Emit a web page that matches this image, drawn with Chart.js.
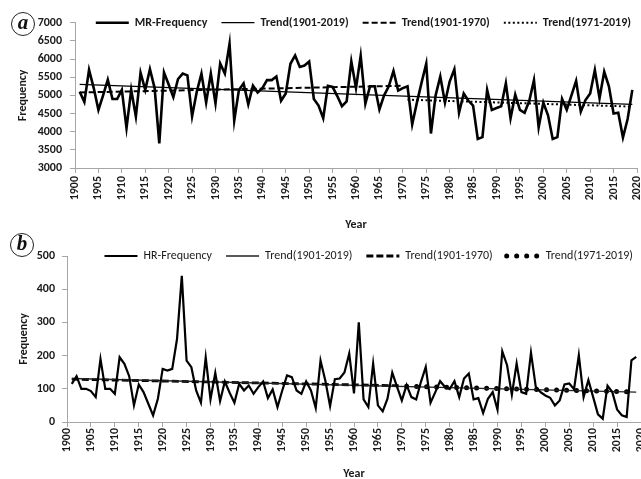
<!DOCTYPE html>
<html>
<head>
<meta charset="utf-8">
<script src="https://cdn.jsdelivr.net/npm/chart.js@4.4.0/dist/chart.umd.min.js"></script>
<style>
  html, body { margin: 0; padding: 0; background: #fff; overflow: hidden; }
  body { width: 641px; height: 479px; position: relative; }
  #wrapA { position: absolute; left: 0; top: 0; }
  #wrapB { position: absolute; left: 0; top: 235px; }
  .tag {
    position: absolute; width: 22px; height: 22px;
    border: 1.5px solid #222; border-radius: 50%;
    font: italic bold 21px "Liberation Serif", serif;
    text-align: center; line-height: 19px; color: #111; background: #fff;
  }
</style>
</head>
<body>
<div id="wrapA"><canvas id="mrChart" width="641" height="235"></canvas></div>
<div id="wrapB"><canvas id="hrChart" width="641" height="250"></canvas></div>
<div class="tag" style="left:11px;top:12px;">a</div>
<div class="tag" style="left:10px;top:233px;">b</div>
<script>
// years 1901..2019
const years = Array.from({ length: 119 }, (_, i) => 1901 + i);

const mrFrequency = [
    5100, 4820, 5700, 5200, 4600, 5000, 5430, 4900, 4900, 5150,   // 1901-1910
    4100, 5150, 4420, 5620, 5150, 5720, 5200, 3680, 5630, 5300,   // 1911-1920
    4950, 5450, 5600, 5550, 4420, 5100, 5600, 4800, 5600, 4780,   // 1921-1930
    5880, 5600, 6420, 4300, 5150, 5330, 4750, 5270, 5080, 5200,   // 1931-1940
    5420, 5420, 5520, 4850, 5050, 5870, 6100, 5780, 5820, 5930,   // 1941-1950
    4900, 4720, 4370, 5260, 5230, 4980, 4700, 4830, 5930, 5200,   // 1951-1960
    6090, 4770, 5250, 5250, 4610, 5000, 5250, 5670, 5130, 5200,   // 1961-1970
    5250, 4200, 4800, 5350, 5870, 3950, 5000, 5520, 4800, 5380,   // 1971-1980
    5720, 4520, 5050, 4850, 4720, 3800, 3850, 5150, 4600, 4650,   // 1981-1990
    4700, 5330, 4370, 5020, 4600, 4520, 4850, 5420, 4120, 4800,   // 1991-2000
    4450, 3800, 3850, 4900, 4600, 5000, 5400, 4550, 4870, 5050,   // 2001-2010
    5700, 4920, 5650, 5250, 4500, 4520, 3840, 4350, 5150          // 2011-2019
];

const hrFrequency = [
    115, 138, 100, 100, 93, 75, 190, 100, 100, 85,     // 1901-1910
    195, 175, 138, 50, 113, 90, 55, 20, 70, 160,       // 1911-1920
    155, 160, 250, 440, 185, 165, 95, 58, 195, 68,     // 1921-1930
    148, 63, 122, 88, 58, 115, 95, 110, 85, 105,       // 1931-1940
    122, 72, 98, 45, 95, 140, 135, 95, 85, 122,        // 1941-1950
    95, 42, 185, 125, 48, 129, 131, 149, 206, 86,      // 1951-1960
    300, 68, 45, 176, 50, 32, 70, 149, 106, 65,        // 1961-1970
    111, 75, 68, 121, 166, 58, 90, 123, 106, 99,       // 1971-1980
    123, 75, 131, 146, 68, 72, 27, 70, 90, 37,         // 1981-1990
    213, 171, 82, 176, 90, 85, 209, 106, 90, 80,       // 1991-2000
    73, 50, 65, 113, 116, 99, 201, 75, 126, 75,        // 2001-2010
    23, 10, 109, 90, 38, 20, 15, 186, 196              // 2011-2019
];

// trend end points
const trendAllYears = [1901, 2019];
const trendEarlyYears = [1901, 1970];
const trendLateYears = [1971, 2019];
const mrTrendAll = [5300, 4750];
const mrTrendEarly = [5080, 5265];
const mrTrendLate = [4880, 4690];
const hrTrendAll = [131, 90];
const hrTrendEarly = [129, 109];
const hrTrendLate = [108, 90];

const mrLabels = ['MR-Frequency', 'Trend(1901-2019)', 'Trend(1901-1970)', 'Trend(1971-2019)'];
const hrLabels = ['HR-Frequency', 'Trend(1901-2019)', 'Trend(1901-1970)', 'Trend(1971-2019)'];

const fontFamily = 'Carlito, Calibri, Lato, sans-serif';
Chart.defaults.font.family = fontFamily;
Chart.defaults.color = '#1a1a1a';

const axisColor = '#a6a6a6';
const pts = (xs, ys) => xs.map((x, i) => ({ x: x, y: ys[i] }));

// legend sits on the top edge of the plot, like the original
const legendOnTop = {
    id: 'legendOnTop',
    afterLayout(chart, args, opts) {
        const lg = chart.legend;
        if (!lg) return;
        const lo = lg.options.labels;
        const textY = lg.top + lo.padding + lo.font.size / 2;
        const dy = chart.chartArea.top - textY;
        lg.top += dy;
        lg.bottom += dy;
        lg.left += opts.dx || 0;
        lg.right += opts.dx || 0;
    }
};

// year labels written upwards under each x tick
const verticalYearTicks = {
    id: 'verticalYearTicks',
    afterDraw(chart, args, opts) {
        const sx = chart.scales.x;
        const ctx = chart.ctx;
        ctx.save();
        ctx.font = 'bold 12px ' + fontFamily;
        ctx.fillStyle = '#1a1a1a';
        ctx.textAlign = 'right';
        ctx.textBaseline = 'middle';
        sx.ticks.forEach(t => {
            ctx.save();
            ctx.translate(sx.getPixelForValue(t.value), sx.top + opts.offset);
            ctx.rotate(-Math.PI / 2);
            ctx.fillText(String(t.value), 0, 0);
            ctx.restore();
        });
        ctx.restore();
    }
};

function legendItems(chart) {
    return chart.data.datasets.map((ds, i) => ({
        text: ds.label,
        strokeStyle: ds.borderColor,
        fillStyle: ds.borderColor,
        lineWidth: ds.borderWidth,
        lineDash: ds.borderDash || [],
        lineCap: ds.borderCapStyle || 'butt',
        pointStyle: 'line',
        fontColor: '#1a1a1a',
        hidden: false,
        datasetIndex: i
    }));
}

function makeOptions(cfg) {
    return {
        responsive: false,
        animation: false,
        layout: { padding: { top: cfg.padTop, left: 0, right: cfg.padRight, bottom: 0 } },
        plugins: {
            legend: {
                display: true,
                position: 'top',
                fullSize: true,
                align: 'end',
                labels: {
                    usePointStyle: true,
                    pointStyleWidth: 33,
                    padding: 14,
                    font: { size: 12, weight: cfg.legendWeight },
                    generateLabels: legendItems
                }
            },
            legendOnTop: { dx: cfg.legendDx },
            verticalYearTicks: { offset: cfg.xLabelOffset },
            tooltip: { enabled: false }
        },
        scales: {
            x: {
                type: 'linear',
                min: 1900,
                max: 2020,
                afterFit: s => { s.height = cfg.xHeight; },
                ticks: { display: false, stepSize: 5, autoSkip: false },
                grid: { drawOnChartArea: false, drawTicks: true, tickLength: 5, color: axisColor },
                border: { display: true, color: axisColor },
                title: {
                    display: true,
                    text: 'Year',
                    font: { size: 12, weight: 'bold' },
                    padding: { top: 0, bottom: cfg.xTitlePad }
                }
            },
            y: {
                min: cfg.yMin,
                max: cfg.yMax,
                afterFit: s => { s.width = cfg.yWidth; },
                ticks: {
                    stepSize: cfg.yStep,
                    padding: cfg.yTickPad,
                    font: { size: 12, weight: 'bold' },
                    callback: v => String(v)
                },
                grid: { drawOnChartArea: false, drawTicks: true, tickLength: 5, color: axisColor },
                border: { display: true, color: axisColor },
                title: {
                    display: true,
                    text: 'Frequency',
                    font: { size: 12, weight: '600' },
                    padding: { top: cfg.yTitlePad, bottom: 0 }
                }
            }
        }
    };
}

new Chart(document.getElementById('mrChart').getContext('2d'), {
    type: 'line',
    data: {
        labels: years,
        datasets: [
            { label: mrLabels[0], data: mrFrequency, borderColor: '#000', borderWidth: 2.6, pointRadius: 0, tension: 0 },
            { label: mrLabels[1], data: pts(trendAllYears, mrTrendAll), borderColor: '#000', borderWidth: 1.2, pointRadius: 0 },
            { label: mrLabels[2], data: pts(trendEarlyYears, mrTrendEarly), borderColor: '#000', borderWidth: 2, borderDash: [6, 3], pointRadius: 0 },
            { label: mrLabels[3], data: pts(trendLateYears, mrTrendLate), borderColor: '#000', borderWidth: 2, borderDash: [2, 2.5], pointRadius: 0 }
        ]
    },
    options: makeOptions({
        padTop: -13.3, padRight: 4, legendDx: 8, xHeight: 67, xLabelOffset: 8, xTitlePad: 3,
        legendWeight: 'bold', yMin: 3000, yMax: 7000, yStep: 500, yWidth: 75, yTickPad: 8, yTitlePad: 16
    }),
    plugins: [legendOnTop, verticalYearTicks]
});

new Chart(document.getElementById('hrChart').getContext('2d'), {
    type: 'line',
    data: {
        labels: years,
        datasets: [
            { label: hrLabels[0], data: hrFrequency, borderColor: '#000', borderWidth: 2.2, pointRadius: 0, tension: 0 },
            { label: hrLabels[1], data: pts(trendAllYears, hrTrendAll), borderColor: '#222', borderWidth: 1.4, pointRadius: 0 },
            { label: hrLabels[2], data: pts(trendEarlyYears, hrTrendEarly), borderColor: '#000', borderWidth: 2.8, borderDash: [7, 3], pointRadius: 0 },
            { label: hrLabels[3], data: pts(trendLateYears, hrTrendLate), borderColor: '#000', borderWidth: 5, borderDash: [0, 10], borderCapStyle: 'round', pointRadius: 0 }
        ]
    },
    options: makeOptions({
        padTop: -15, padRight: 0, legendDx: 6, xHeight: 63, xLabelOffset: 6, xTitlePad: 4,
        legendWeight: 'normal', yMin: 0, yMax: 500, yStep: 50, yWidth: 67, yTickPad: 7, yTitlePad: 17
    }),
    plugins: [legendOnTop, verticalYearTicks]
});
</script>
</body>
</html>
